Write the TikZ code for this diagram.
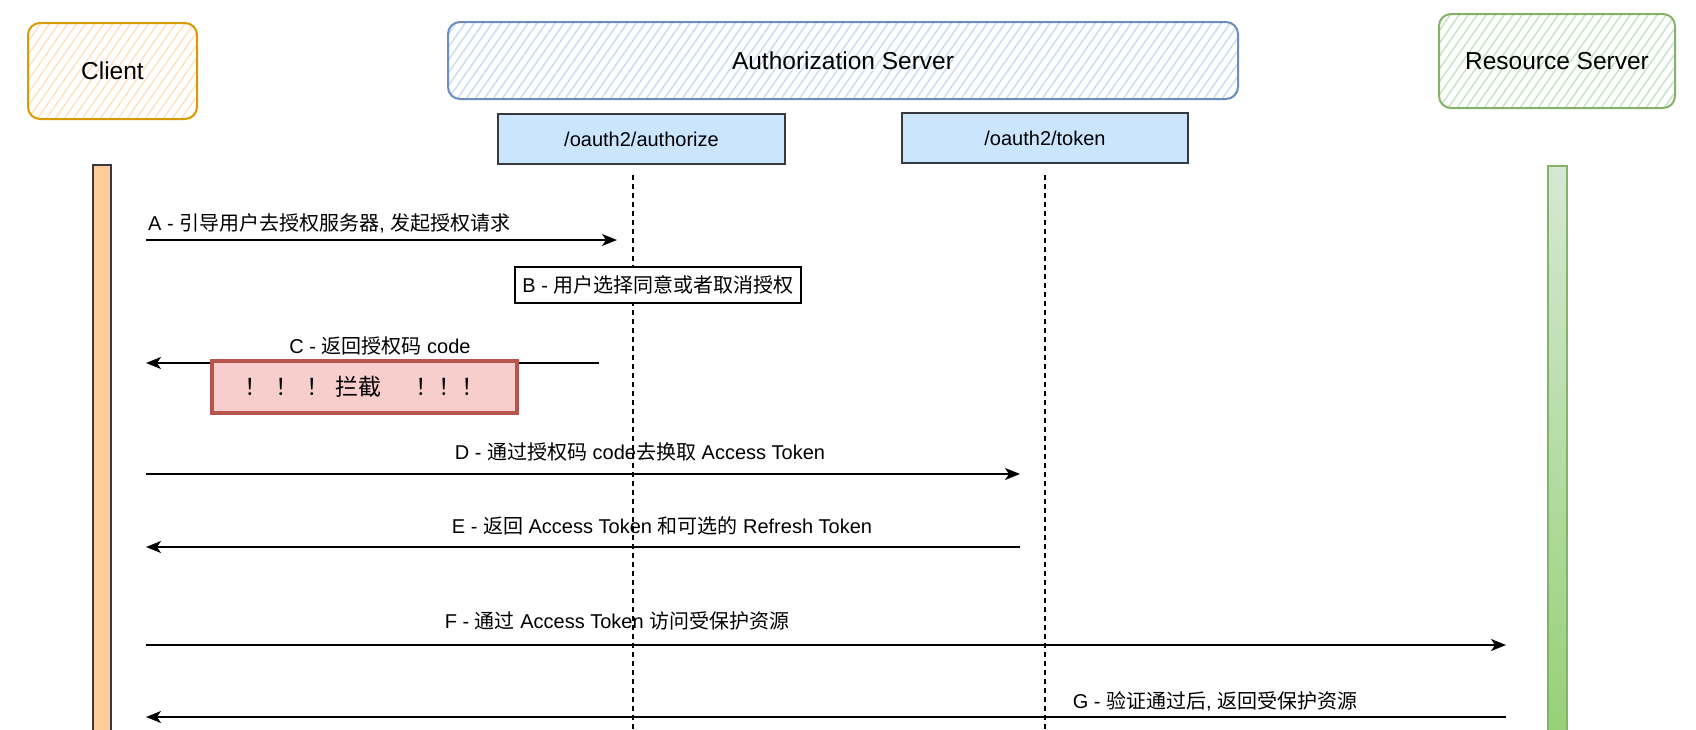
\documentclass[tikz,border=0pt]{standalone}
\usepackage{fontspec}
\setmainfont{Liberation Sans}
\newfontfamily\cjkfont{Noto Sans CJK SC}
\newcommand{\zh}[1]{{\cjkfont #1}}
\usetikzlibrary{arrows.meta, positioning}
\definecolor{clientline}{HTML}{D79B00}
\definecolor{clienthatch}{HTML}{FFE1C4}
\definecolor{authline}{HTML}{6C8EBF}
\definecolor{authhatch}{HTML}{CADDF4}
\definecolor{resline}{HTML}{82B366}
\definecolor{reshatch}{HTML}{C9E3C6}
\definecolor{epfill}{HTML}{CCE5FF}
\definecolor{epline}{HTML}{36393D}
\definecolor{barfill}{HTML}{FFCC99}
\definecolor{restop}{HTML}{D5E8D4}
\definecolor{resbot}{HTML}{97D077}
\definecolor{stopfill}{HTML}{F8CECC}
\definecolor{stopline}{HTML}{B85450}

\tikzset{
	actor/.style={draw, rounded corners=12pt, line width=2pt, font=\fontsize{24.5}{28}\selectfont},
	hatch/.style={path picture={
		\foreach \i in {-12,...,100}
			\draw[#1, line width=1.5pt] ([xshift=\i*9pt]path picture bounding box.south west) -- ++(84pt,120pt);
	}},
	endpoint/.style={draw=epline, fill=epfill, line width=1.2pt, font=\fontsize{20}{24}\selectfont},
	lifeline/.style={line width=1.5pt, dash pattern=on 5pt off 4pt},
	msg/.style={line width=1.5pt, -{Stealth[length=15pt, width=12pt, inset=4pt]}},
	lbl/.style={font=\fontsize{20}{24}\selectfont, inner sep=0pt},
	step box/.style={draw, line width=1.2pt, font=\fontsize{20}{24}\selectfont, inner sep=2pt},
}

\begin{document}
\begin{tikzpicture}[x=1pt, y=-1pt]
	\useasboundingbox (0,0) rectangle (1696,729);
	
	\node[actor, draw=clientline, hatch=clienthatch, minimum width=169pt, minimum height=96pt] (client) at (112.5,71) {Client};
	\node[actor, draw=authline, hatch=authhatch, minimum width=790pt, minimum height=77pt] (authsrv) at (843,60.5) {Authorization Server};
	\node[actor, draw=resline, hatch=reshatch, minimum width=236pt, minimum height=94pt] (ressrv) at (1557,61) {Resource Server};
	
	\node[endpoint, minimum width=287pt, minimum height=50pt] (authorize) at (641.5,139) {/oauth2/authorize};
	\node[endpoint, minimum width=286pt, minimum height=50pt] (token) at (1045,138) {/oauth2/token};
	
	\draw[epline, fill=barfill, line width=1.2pt] (93,165) rectangle (111,735);
	\shade[top color=restop, bottom color=resbot] (1548,166) rectangle (1567,735);
	\draw[resline, line width=1.2pt] (1548,735) -- (1548,166) -- (1567,166) -- (1567,735);
	
	\coordinate (authtop) at (633,175);
	\coordinate (authbot) at (633,729);
	\coordinate (tokentop) at (1045,175);
	\coordinate (tokenbot) at (1045,729);
	\draw[lifeline] (authtop) -- (authbot);
	\draw[lifeline] (tokentop) -- (tokenbot);
	
	\coordinate (a1) at (146,240);
	\coordinate (a2) at (617,240);
	\coordinate (c1) at (599,363);
	\coordinate (c2) at (146,363);
	\coordinate (d1) at (146,474);
	\coordinate (d2) at (1020,474);
	\coordinate (e1) at (1020,547);
	\coordinate (e2) at (146,547);
	\coordinate (f1) at (146,645);
	\coordinate (f2) at (1506,645);
	\coordinate (g1) at (1506,717);
	\coordinate (g2) at (146,717);
	
	\draw[msg] (a1) -- (a2);
	\draw[msg] (c1) -- (c2);
	\draw[msg] (d1) -- (d2);
	\draw[msg] (e1) -- (e2);
	\draw[msg] (f1) -- (f2);
	\draw[msg] (g1) -- (g2);
	
	\node[lbl, anchor=west] (msgA) at (148,223) {A - \zh{引导用户去授权服务器}, \zh{发起授权请求}};
	\node[step box, fill=white, minimum width=286pt, minimum height=36pt] (msgB) at (658,285) {B - \zh{用户选择同意或者取消授权}};
	\node[lbl] (msgC) at (380,346) {C - \zh{返回授权码} code};
	\node[draw=stopline, fill=stopfill, line width=4pt, minimum width=305pt, minimum height=52pt, font=\fontsize{23}{26}\selectfont] (stop) at (364.5,387) {\zh{！\hspace{8pt}！\hspace{8pt}！\hspace{6pt}拦截\hspace{34pt}！！！}};
	\node[lbl] (msgD) at (640,452) {D - \zh{通过授权码} code\zh{去换取} Access Token};
	\node[lbl] (msgE) at (662,526) {E - \zh{返回} Access Token \zh{和可选的} Refresh Token};
	\node[lbl] (msgF) at (617,621) {F - \zh{通过} Access Token \zh{访问受保护资源}};
	\node[lbl] (msgG) at (1215,701) {G - \zh{验证通过后}, \zh{返回受保护资源}};
	
\end{tikzpicture}
\end{document}
